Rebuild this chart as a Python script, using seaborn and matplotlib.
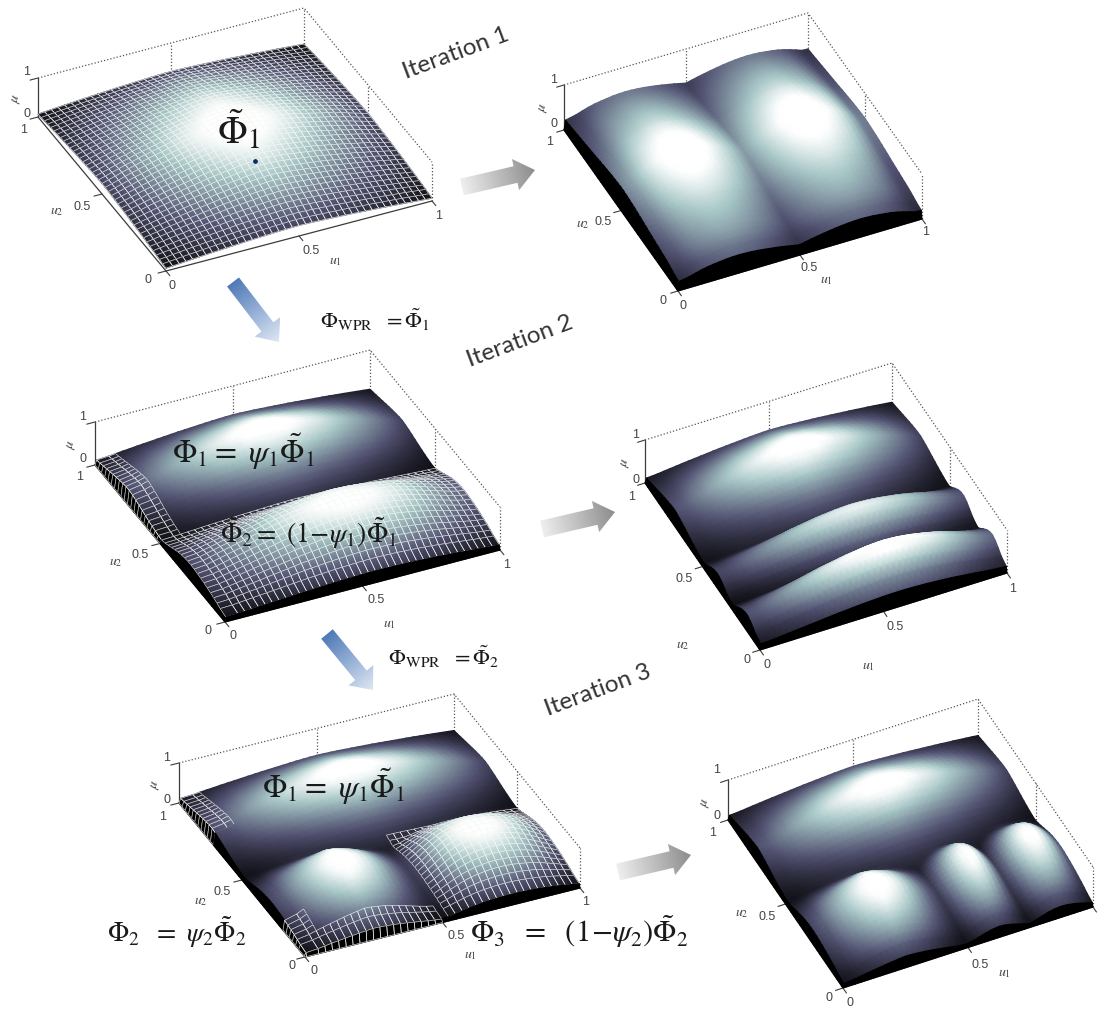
import numpy as np
import matplotlib
matplotlib.use("Agg")
import matplotlib.pyplot as plt
from matplotlib.collections import LineCollection
from matplotlib.colors import LinearSegmentedColormap
from matplotlib.patches import Polygon
from mpl_toolkits.mplot3d import proj3d
import seaborn as sns

sns.set_theme(style="white")
plt.rcParams["font.family"] = ["Liberation Sans", "DejaVu Sans"]
plt.rcParams["mathtext.fontset"] = "stix"
bone = sns.color_palette("bone", as_cmap=True)

# ---------- membership profiles (u = 0, 0.025 ... 1) ----------
grid = [i / 40 for i in range(41)]
arch = [.27,.32,.37,.42,.47,.51,.56,.60,.64,.68,.72,.76,.80,.83,.86,.89,.92,.95,.97,.99,1,
        .99,.97,.95,.92,.89,.86,.83,.80,.76,.72,.68,.64,.60,.56,.51,.47,.42,.37,.32,.27]
two_left = [.45,.47,.58,.68,.77,.84,.89,.93,.97,.99,1,.99,.97,.94,.90,.85,.80,.74,.68,.61,.54,
            .46,.38,.30,.22,.15,.08] + [0]*14
two_right = two_left[::-1]
two_v = [.38,.38,.44,.50,.55,.59,.62,.65,.68,.71,.74,.77,.81,.84,.87,.90,.93,.95,.97,.99,1,
         .99,.97,.95,.93,.90,.87,.84,.81,.77,.74,.71,.68,.65,.62,.59,.56,.53,.50,.47,.45]
top_v = [0]*14 + [.02,.05,.08,.11,.14,.18,.22,.27,.33,.40,.48,.57,.67,.77,.86,.94,1,.98,.93,.87,
                  .80,.72,.64,.56,.48,.40,.33]
low_v = [.20,.26,.38,.50,.60,.68,.76,.83,.89,.94,.98,1,.99,.95,.89,.80,.68,.55,.42,.30,.20,.12,.05] + [0]*18
ridge_u = [.30,.33,.36,.40,.44,.48,.52,.56,.60,.64,.68,.72,.76,.80,.83,.86,.89,.92,.94,.96,
           .98,.99,1,1,.99,.98,.96,.94,.91,.88,.85,.81,.77,.72,.67,.62,.57,.52,.47,.43,.40]
mid_v = [0]*6 + [.02,.06,.1,.15,.2,.3,.44,.66,.88,1,.97,.85,.65,.42,.22,.1,.02] + [0]*18
near_v = [.3,.33,.50,.72,.90,1,.95,.82,.62,.4,.2,.08,.02] + [0]*28
left_u = [.25,.28,.38,.48,.57,.65,.73,.81,.88,.94,1,.98,.93,.87,.80,.71,.61,.51,.41,.32,.25,.17,.09,.02] + [0]*17
mid_u = [0]*18 + [.05,.14,.25,.42,.60,.78,.92,1,.95,.82,.64,.45,.27,.12,.02] + [0]*8
end_u = [0]*29 + [.10,.25,.45,.65,.83,.95,1,.96,.85,.70,.52,.35]
half_u = [0]*18 + [.04,.12,.2,.3,.42,.55,.67,.78,.86,.92,.96,.99,1,.99,.97,.93,.88,.82,.74,.65,.55,.45,.35]

# bumps of each panel: (u1 profile, u2 profile, peak)
bumps_1 = [(arch, arch, 1)]
bumps_2 = [(two_left, two_v, 1), (two_right, two_v, 1)]
bumps_3 = [(arch, top_v, 1), (ridge_u, low_v, .95)]
bumps_4 = [(arch, top_v, 1), (ridge_u, mid_v, .85), (ridge_u, near_v, 1)]
bumps_5 = [(arch, top_v, 1), (left_u, low_v, 1), (half_u, low_v, .95)]
bumps_6 = [(arch, top_v, 1), (left_u, low_v, 1), (mid_u, low_v, .95), (end_u, low_v, .95)]

# ---------- panel layout in pixels: front, left, right corners, height of mu = 1 ----------
panels = [
    dict(b=bumps_1, F=(166,271), L=(38,117),  R=(432,201),  h=39, wall=False, mesh=[(0,40,0,40)]),
    dict(b=bumps_2, F=(678,291), L=(564,130), R=(922,219),  h=45, wall=True,  mesh=[]),
    dict(b=bumps_3, F=(225,622), L=(95,465),  R=(500,550),  h=43, wall=True,
         mesh=[(1,40,1,20),(0,3,20,40)]),
    dict(b=bumps_4, F=(760,650), L=(645,483), R=(1007,573), h=43, wall=True,  mesh=[]),
    dict(b=bumps_5, F=(305,957), L=(179,803), R=(580,888),  h=40, wall=True,
         mesh=[(21,40,1,20),(0,3,29,40),(0,3,0,7),(0,20,0,3)]),
    dict(b=bumps_6, F=(843,988), L=(728,820), R=(1093,907), h=40, wall=True,  mesh=[]),
]
W, H = 1097, 1009
fig = plt.figure(figsize=(W/100, H/100), dpi=100, facecolor="white")
ov = fig.add_axes([0, 0, 1, 1])
ov.patch.set_visible(False)
ov.axis("off")
AXC, DOT = "#3c3c3c", "#555555"
MESH = (0.97, 0.98, 0.96, 0.9)
VMAX = 0.9

def draw_panel(p):
    F, L, R = map(np.array, (p["F"], p["L"], p["R"]))
    ux, uy = R - F
    vx, vy = L - F
    M = np.array([[ux, vx, 0, F[0]],
                  [uy, vy, -p["h"], F[1]],
                  [1, 1, -1.5, 0],
                  [0, 0, 0, 1]], dtype=float)

    def project(xs, ys, zs):
        xp, yp, _ = proj3d.proj_transform(np.ravel(xs), np.ravel(ys), np.ravel(zs), M)
        return np.reshape(xp, np.shape(xs)), np.reshape(yp, np.shape(xs))

    u = np.array(grid)
    if p["wall"]:
        u[1] = 0.006          # the wall at the open edges is almost vertical
    X, Y = np.meshgrid(u, u)
    Z = np.max([np.outer(v, f) * k for f, v, k in p["b"]], axis=0)
    if p["wall"]:
        Z[0, :] = 0
        Z[:, 0] = 0
    Xp, Yp = project(X, Y, Z)

    # box lines under the surface
    def line3(xs, ys, zs, **kw):
        a, b = project(np.array(xs, float), np.array(ys, float), np.array(zs, float))
        ov.plot(a, b, zorder=1, **kw)
    line3([0, 0, 1], [1, 0, 0], [0, 0, 0], color=AXC, lw=0.9)
    line3([0, 0], [1, 1], [0, 1], color=AXC, lw=0.9)
    for xs, ys, zs in [([0, 1, 1], [1, 1, 0], [1, 1, 1]), ([1, 1], [1, 1], [0, 1]),
                       ([1, 1], [0, 0], [0, 1]), ([.5, .5], [1, 1], [0, 1]), ([1, 1], [.5, .5], [0, 1])]:
        line3(xs, ys, zs, color=DOT, lw=0.9, ls=(0, (1, 1.6)))
    for t in (0, .5, 1):
        line3([t, t], [0, -.03], [0, 0], color=AXC, lw=0.8)
        line3([0, -.03], [t, t], [0, 0], color=AXC, lw=0.8)
    line3([0, -.03], [1, 1], [1, 1], color=AXC, lw=0.8)

    # painter's order: far strips first, near strips last
    meshed = np.zeros((40, 40), bool)
    for i0, i1, j0, j1 in p["mesh"]:
        meshed[j0:j1, i0:i1] = True
    first = 1 if p["wall"] else 0
    for j in range(39, -1, -1):
        sx, sy = Xp[j:j+2, first:][:, ::-1], Yp[j:j+2, first:][:, ::-1]
        c = Z[j:j+2, first:][:, ::-1].copy()
        if p["wall"] and j == 0:
            c[:] = 0
        ov.pcolormesh(sx, sy, c, shading="gouraud", cmap=bone, vmin=0, vmax=VMAX, zorder=2)
        if p["wall"]:
            ov.pcolormesh(Xp[j:j+2, :2], Yp[j:j+2, :2], np.zeros((2, 2)), shading="gouraud",
                          cmap=bone, vmin=0, vmax=VMAX, zorder=2)
        segs = []
        for i in np.flatnonzero(meshed[j]):
            a = (Xp[j, i], Yp[j, i]); b = (Xp[j, i+1], Yp[j, i+1])
            c1 = (Xp[j+1, i], Yp[j+1, i]); d = (Xp[j+1, i+1], Yp[j+1, i+1])
            segs += [[a, b], [a, c1], [b, d], [c1, d]]
        if segs:
            ov.add_collection(LineCollection(segs, colors=[MESH], linewidths=0.45, zorder=2), autolim=False)

for p in panels:
    draw_panel(p)

# ---------- text and arrows in pixels ----------
grey = LinearSegmentedColormap.from_list("g", ["#eeeeee", "#8c8c8c"])
blue = LinearSegmentedColormap.from_list("b", ["#4f7ab8", "#dfe8f4"])

def arrow(tail, tip, sw, hw, hl, cmap):
    a, b = np.array(tail, float), np.array(tip, float)
    d = b - a
    n = np.linalg.norm(d)
    e = d / n
    o = np.array([-e[1], e[0]])
    c = b - e * hl
    pts = [a + o*sw/2, c + o*sw/2, c + o*hw/2, b, c - o*hw/2, c - o*sw/2, a - o*sw/2]
    x0, y0 = np.min(pts, axis=0) - 2
    x1, y1 = np.max(pts, axis=0) + 2
    xx, yy = np.meshgrid(np.arange(x0, x1), np.arange(y0, y1))
    t = ((xx - a[0]) * e[0] + (yy - a[1]) * e[1]) / n
    im = ov.imshow(np.clip(t, 0, 1), extent=(x0, x1, y1, y0), cmap=cmap, vmin=0, vmax=1,
                   aspect="auto", origin="upper", zorder=3)
    poly = Polygon(pts, closed=True, transform=ov.transData, fc="none", ec="none")
    ov.add_patch(poly)
    im.set_clip_path(poly)

arrow((462,187), (535,170), 17, 32, 20, grey)
arrow((542,529), (615,512), 17, 32, 20, grey)
arrow((618,872), (691,855), 17, 32, 20, grey)
arrow((233,282), (279,342), 15, 32, 19, blue)
arrow((327,634), (373,690), 15, 32, 19, blue)
ov.plot([255], [161], "o", ms=2.4, color="#0a2a6a", zorder=4)

ITER = dict(family=["Lato", "DejaVu Sans"], fontsize=17.5, color="#333333", rotation=20.5,
            ha="center", va="center", rotation_mode="anchor")
ov.text(456, 53, "Iteration 1", **ITER)
ov.text(520, 341, "Iteration 2", **ITER)
ov.text(598, 690, "Iteration 3", **ITER)

def math(x, y, s, size):
    ov.text(x, y, s, fontsize=size, color="#1a1a1a", ha="left", va="center", zorder=5)

math(217, 130, r"$\tilde{\Phi}_1$", 28)
math(320, 320, r"$\Phi_{\mathrm{WPR}}\ \ =\tilde{\Phi}_1$", 16)
math(388, 657, r"$\Phi_{\mathrm{WPR}}\ \ =\tilde{\Phi}_2$", 16)
math(172, 452, r"$\Phi_1=\ \psi_1\tilde{\Phi}_1$", 23)
math(220, 533, r"$\tilde{\Phi}_2=\ (1\!-\!\psi_1)\tilde{\Phi}_1$", 20)
math(262, 787, r"$\Phi_1=\ \psi_1\tilde{\Phi}_1$", 23)
math(107, 932, r"$\Phi_2\ \ =\ \psi_2\tilde{\Phi}_2$", 20)
math(470, 932, r"$\Phi_3\ \ =\ \ (1\!-\!\psi_2)\tilde{\Phi}_2$", 22)

# tick labels: z1, z0, mu, u2=1, u2=.5, u2 label, u2=0, u1=0, u1=.5, u1 label, u1=1
labels = [
    [(27,72),(27,114),(16,99),(24,130),(82,207),(57,211),(148,280),(172,286),(311,251),(335,261),(439,216)],
    [(554,80),(554,124),(543,108),(550,142),(603,222),(583,224),(663,301),(683,306),(809,268),(826,280),(926,232)],
    [(83,417),(83,459),(71,445),(80,477),(140,555),(116,562),(208,631),(233,636),(376,600),(389,624),(507,565)],
    [(636,435),(636,480),(625,463),(632,497),(684,579),(683,645),(747,660),(767,665),(895,627),(868,666),(1013,589)],
    [(167,758),(167,800),(155,785),(163,817),(222,892),(201,901),(292,966),(314,971),(456,936),(470,955),(586,902)],
    [(717,770),(717,816),(705,803),(713,833),(767,917),(742,913),(829,998),(850,1003),(980,965),(1004,973),None],
]
names = ["1", "0", r"$\mu$", "1", "0.5", r"$u_2$", "0", "0", "0.5", r"$u_1$", "1"]
for row in labels:
    for pos, s in zip(row, names):
        if pos is None:
            continue
        is_math = s.startswith("$")
        rot = 75 if s == r"$\mu$" else 0
        ov.text(pos[0], pos[1], s, fontsize=10 if is_math else 9, color="#444444",
                ha="center", va="center", rotation=rot, zorder=5)

ov.set_xlim(0, W)
ov.set_ylim(H, 0)
fig.savefig("out.png", dpi=100)
